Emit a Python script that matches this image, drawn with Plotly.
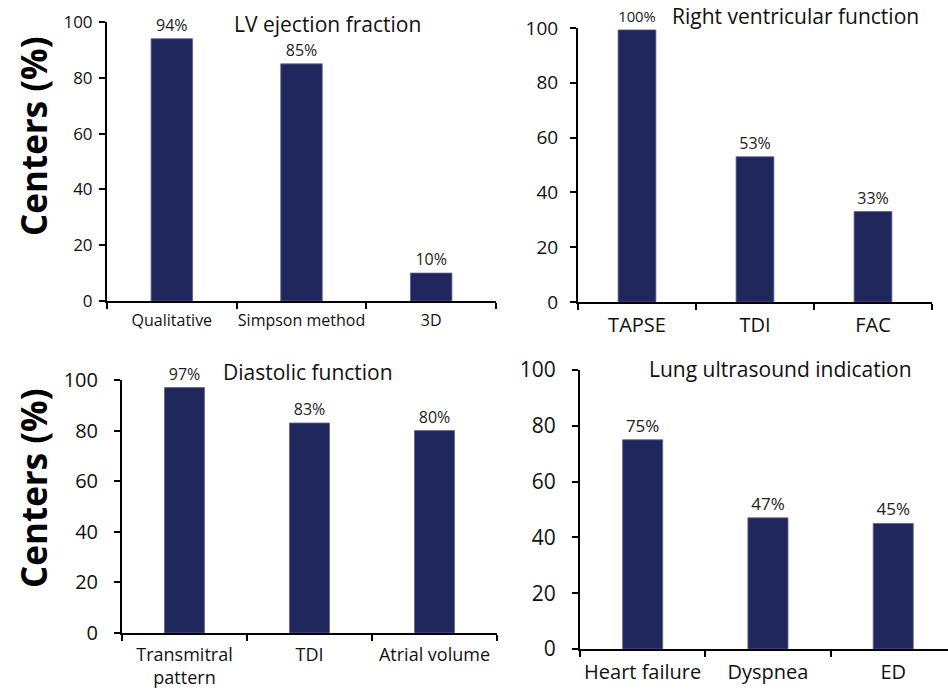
import plotly.graph_objects as go

W, H = 948, 696

# ---- data ----
lv_cats = ["Qualitative", "Simpson method", "3D"]
lv_vals = [94, 85, 10]
lv_labels = ["94%", "85%", "10%"]

rv_cats = ["TAPSE", "TDI", "FAC"]
rv_vals = [99.3, 53, 33]
rv_labels = ["100%", "53%", "33%"]

dia_cats = ["Transmitral<br>pattern", "TDI", "Atrial volume"]
dia_vals = [97, 83, 80]
dia_labels = ["97%", "83%", "80%"]

lung_cats = ["Heart failure", "Dyspnea", "ED"]
lung_vals = [75, 47, 45]
lung_labels = ["75%", "47%", "45%"]

titles = ["LV ejection fraction", "Right ventricular function",
          "Diastolic function", "Lung ultrasound indication"]
y_title = "Centers (%)"
yticks = [0, 20, 40, 60, 80, 100]

BAR = "#20275c"
FONT = "Open Sans"

# panel pixel boxes: (x0, x1, ytop, ybottom), xrange_end, tickfont, catfont, labelfont, tick standoff
panels = [
    (lv_cats, lv_vals, lv_labels, (107, 496, 22, 301), 2.5, 17, 16, 16, 3),
    (rv_cats, rv_vals, rv_labels, (578, 932, 28, 302), 2.5, 19, 20, 16, 8),
    (dia_cats, dia_vals, dia_labels, (122, 497, 380, 633), 2.5, 20, 18, 16, 12),
    (lung_cats, lung_vals, lung_labels, (580, 948, 370, 649), 2.437, 21, 20, 17, 12),
]

fig = go.Figure()
layout = {}
for i, (cats, vals, labs, box, xend, tf, cf, lf, sto) in enumerate(panels, start=1):
    x0, x1, yt, yb = box
    xa = "x" if i == 1 else f"x{i}"
    ya = "y" if i == 1 else f"y{i}"
    fig.add_trace(go.Bar(
        x=cats, y=vals, text=labs, textposition="outside",
        textfont=dict(family=FONT, size=lf, color="#222222"),
        marker=dict(color=BAR, line=dict(color="#5d628f", width=0.8)),
        cliponaxis=False, xaxis=xa, yaxis=ya, showlegend=False,
    ))
    kx = "xaxis" if i == 1 else f"xaxis{i}"
    ky = "yaxis" if i == 1 else f"yaxis{i}"
    layout[kx] = dict(
        domain=[x0 / W, x1 / W], anchor=ya, range=[-0.5, xend],
        showline=True, linecolor="black", linewidth=2,
        ticks="outside", tickson="boundaries", ticklen=6, tickwidth=2,
        tickcolor="black", showgrid=False, zeroline=False, automargin=False,
        tickfont=dict(family=FONT, size=cf, color="#111111"), tickangle=0,
        ticklabelstandoff=4, fixedrange=True,
    )
    layout[ky] = dict(
        domain=[1 - yb / H, 1 - yt / H], anchor=xa, range=[0, 100],
        tickvals=yticks, showline=True, linecolor="black", linewidth=2,
        ticks="outside", ticklen=6, tickwidth=2, tickcolor="black",
        showgrid=False, zeroline=False, automargin=False,
        tickfont=dict(family=FONT, size=tf, color="#111111"),
        ticklabelstandoff=sto, fixedrange=True,
    )

annotations = []
title_pos = [(327, 24, 21), (795, 16, 21), (308, 372, 21), (780, 369, 21)]
for t, (cx, cy, fs) in zip(titles, title_pos):
    annotations.append(dict(
        text=t, x=cx / W, y=1 - cy / H, xref="paper", yref="paper",
        xanchor="center", yanchor="middle", showarrow=False,
        font=dict(family=FONT, size=fs, color="#111111"),
    ))
for cy in (136, 488):
    annotations.append(dict(
        text=f"<b>{y_title}</b>", x=33 / W, y=1 - cy / H,
        xref="paper", yref="paper", xanchor="center", yanchor="middle",
        textangle=-90, showarrow=False,
        font=dict(family=FONT, size=35, color="black"),
    ))

fig.update_layout(
    width=W, height=H, margin=dict(l=0, r=0, t=0, b=0, autoexpand=False),
    paper_bgcolor="white", plot_bgcolor="white",
    bargap=0.68, annotations=annotations, **layout,
)

fig.write_html("out.html", config={"displayModeBar": False},
               post_script="document.body.style.margin='0px';document.body.style.overflow='hidden';")
